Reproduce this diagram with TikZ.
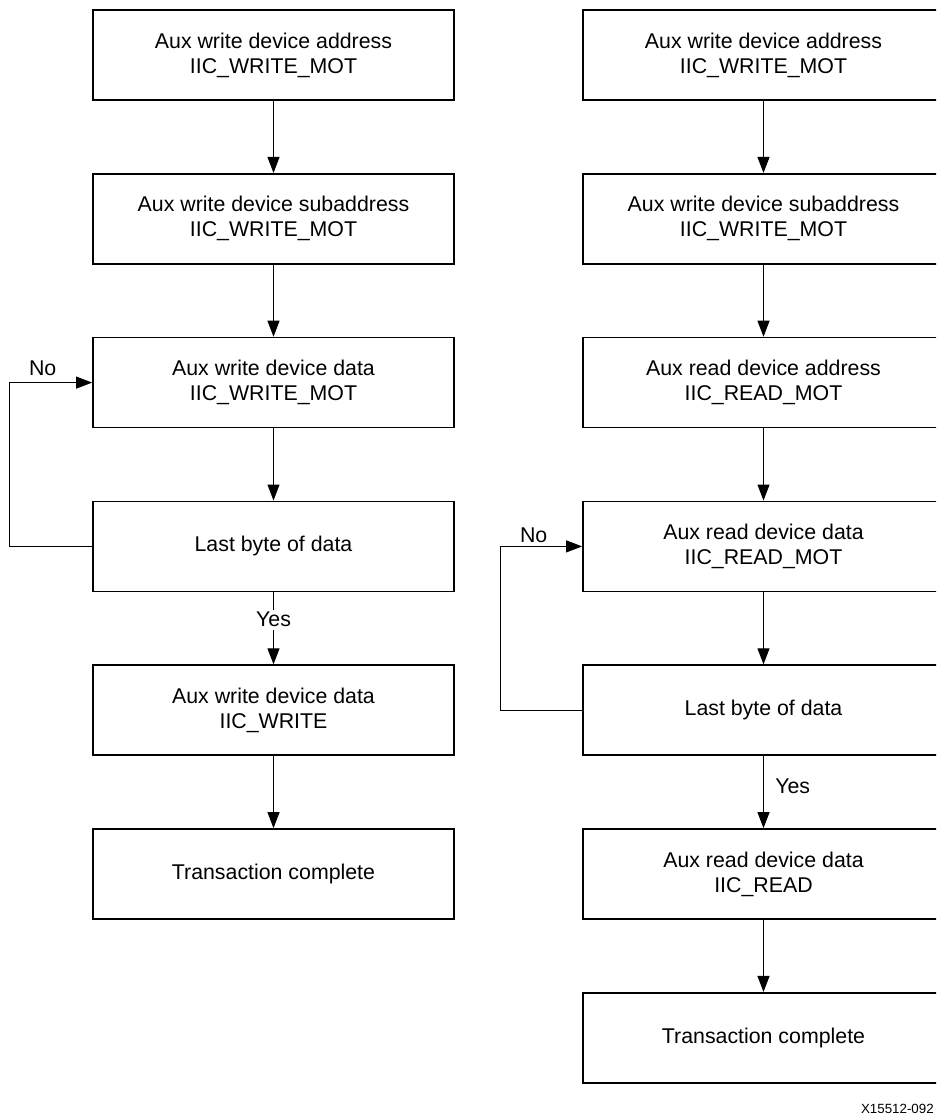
\documentclass[tikz,border=0pt]{standalone}
\usepackage{fontspec}
\setmainfont{Liberation Sans}
\usetikzlibrary{arrows.meta}

\begin{document}
\begin{tikzpicture}[x=0.75pt,y=-0.75pt,
  flowbox/.style={draw,line width=1.3pt,minimum width=270.75pt,minimum height=67.5pt,
    inner sep=0pt,align=center,font=\fontsize{16}{18.75}\selectfont},
  flowarrow/.style={-{Triangle[length=12pt,width=9pt]},line width=0.75pt},
  flowlabel/.style={font=\fontsize{16}{18.75}\selectfont,inner sep=2pt}]
  \useasboundingbox (0,0) rectangle (936,1117);
  \clip (0,0) rectangle (936,1117);

  \node[flowbox] (waddr) at (273.5,55) {Aux write device address\\IIC\_WRITE\_MOT};
  \node[flowbox] (wsub) at (273.5,218.8) {Aux write device subaddress\\IIC\_WRITE\_MOT};
  \node[flowbox] (wdata) at (273.5,382.6) {Aux write device data\\IIC\_WRITE\_MOT};
  \node[flowbox] (wlast) at (273.5,546.4) {Last byte of data};
  \node[flowbox] (wfinal) at (273.5,710.2) {Aux write device data\\IIC\_WRITE};
  \node[flowbox] (wdone) at (273.5,874) {Transaction complete};

  \node[flowbox] (raddr) at (763.5,55) {Aux write device address\\IIC\_WRITE\_MOT};
  \node[flowbox] (rsub) at (763.5,218.8) {Aux write device subaddress\\IIC\_WRITE\_MOT};
  \node[flowbox] (rdev) at (763.5,382.6) {Aux read device address\\IIC\_READ\_MOT};
  \node[flowbox] (rdata) at (763.5,546.4) {Aux read device data\\IIC\_READ\_MOT};
  \node[flowbox] (rlast) at (763.5,710.2) {Last byte of data};
  \node[flowbox] (rfinal) at (763.5,874) {Aux read device data\\IIC\_READ};
  \node[flowbox] (rdone) at (763.5,1037.8) {Transaction complete};

  \foreach \from/\to in {waddr/wsub,wsub/wdata,wdata/wlast,wfinal/wdone,
    raddr/rsub,rsub/rdev,rdev/rdata,rdata/rlast,rfinal/rdone} {
    \draw[flowarrow] (\from) -- (\to);
  }

  \draw[flowarrow] (wlast) -- node[flowlabel,fill=white,pos=0.38] (wyes) {Yes} (wfinal);
  \draw[flowarrow] (rlast) -- node[flowlabel,right=6.5pt,pos=0.42] (ryes) {Yes} (rfinal);

  \draw[flowarrow] (wlast.west) -- ++(-83,0) |- (wdata.west);
  \draw[flowarrow] (rlast.west) -- ++(-82,0) |- (rdata.west);
  \node[flowlabel] (wno) at (42.7,368) {No};
  \node[flowlabel] (rno) at (533.7,535) {No};

  \node[anchor=east,inner sep=0pt,font=\fontsize{10}{12}\selectfont] (figid) at (934,1109) {X15512-092};
\end{tikzpicture}
\end{document}
